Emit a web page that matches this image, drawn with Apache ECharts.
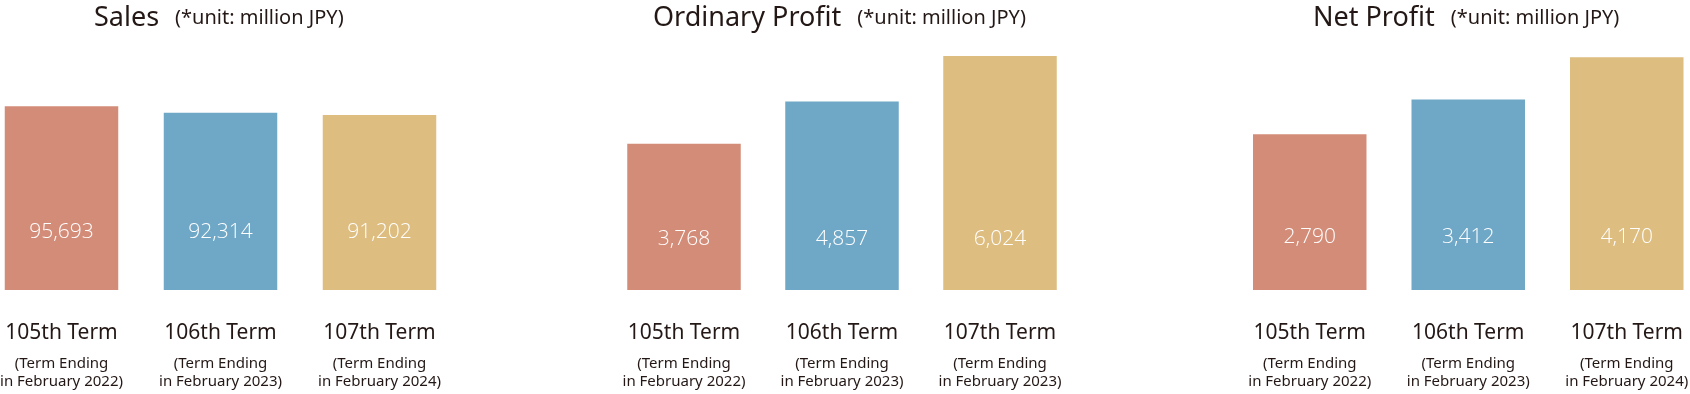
<!DOCTYPE html>
<html>
<head>
<meta charset="utf-8">
<script src="https://cdn.jsdelivr.net/npm/echarts@6/dist/echarts.min.js"></script>
<style>
html,body{margin:0;padding:0;background:#fff;}
#chart{width:1690px;height:394px;}
</style>
</head>
<body>
<div id="chart"></div>
<script>
// ---- data ----
const termNames = ['105th Term', '106th Term', '107th Term'];
const salesEndings = ['in February 2022)', 'in February 2023)', 'in February 2024)'];
const ordinaryEndings = ['in February 2022)', 'in February 2023)', 'in February 2023)'];
const netEndings = ['in February 2022)', 'in February 2023)', 'in February 2024)'];
const salesValues = [95693, 92314, 91202];
const ordinaryValues = [3768, 4857, 6024];
const netValues = [2790, 3412, 4170];
const titles = ['Sales', 'Ordinary Profit', 'Net Profit'];
const unitText = '(*unit: million JPY)';

// ---- styles ----
const barColors = ['#D38C78', '#6FA7C6', '#DEBD80'];
const textColor = '#231815';
const FONT = '"Noto Sans", "Open Sans", sans-serif';
const LIGHT_FONT = '"Open Sans", "Noto Sans", sans-serif';

const panels = [
  {title: titles[0], endings: salesEndings, values: salesValues, left: -18, width: 477, max: 125000, titleLeft: 89, labelDist: 47},
  {title: titles[1], endings: ordinaryEndings, values: ordinaryValues, left: 605, width: 474, max: 6180, titleLeft: 648, labelDist: 40},
  {title: titles[2], endings: netEndings, values: netValues, left: 1230.5, width: 475.5, max: 4300, titleLeft: 1308, labelDist: 42}
];

const option = {
  backgroundColor: '#ffffff',
  animation: false,
  title: [],
  grid: [],
  xAxis: [],
  yAxis: [],
  series: []
};

panels.forEach((p, i) => {
  option.title.push({
    left: p.titleLeft,
    top: -3,
    text: '{a|' + p.title + '}{b|' + unitText + '}',
    textStyle: {
      fontWeight: 'normal',
      rich: {
        a: {fontFamily: FONT, fontSize: 27, fontWeight: 'normal', color: textColor, lineHeight: 32, padding: [0, 16, 0, 0]},
        b: {fontFamily: FONT, fontSize: 20, fontWeight: 'normal', color: textColor, lineHeight: 32}
      }
    }
  });
  option.grid.push({left: p.left, width: p.width, top: 50, bottom: 104, containLabel: false, outerBoundsMode: 'none'});
  option.xAxis.push({
    type: 'category',
    gridIndex: i,
    data: termNames.map((t, k) => t + '\n(Term Ending\n' + p.endings[k]),
    axisLine: {show: false},
    axisTick: {show: false},
    axisLabel: {
      margin: 22,
      interval: 0,
      color: textColor,
      fontFamily: FONT,
      formatter: function (val) {
        const parts = val.split('\n');
        return '{a|' + parts[0] + '}\n{b|' + parts[1] + '}\n{b|' + parts[2] + '}';
      },
      rich: {
        a: {fontFamily: FONT, fontSize: 21, color: textColor, lineHeight: 42, align: 'center'},
        b: {fontFamily: FONT, fontSize: 15, color: textColor, lineHeight: 18.5, align: 'center'}
      }
    }
  });
  option.yAxis.push({
    type: 'value',
    gridIndex: i,
    min: 0,
    max: p.max,
    show: false,
    splitLine: {show: false}
  });
  option.series.push({
    type: 'bar',
    xAxisIndex: i,
    yAxisIndex: i,
    barWidth: 113.5,
    data: p.values.map((v, k) => ({value: v, itemStyle: {color: barColors[k]}})),
    label: {
      show: true,
      position: 'insideBottom',
      distance: p.labelDist,
      color: '#ffffff',
      fontFamily: LIGHT_FONT,
      fontWeight: 300,
      fontSize: 21,
      formatter: function (prm) { return prm.value.toLocaleString('en-US'); }
    }
  });
});

const chart = echarts.init(document.getElementById('chart'), null, {renderer: 'canvas'});
chart.setOption(option);
</script>
</body>
</html>
